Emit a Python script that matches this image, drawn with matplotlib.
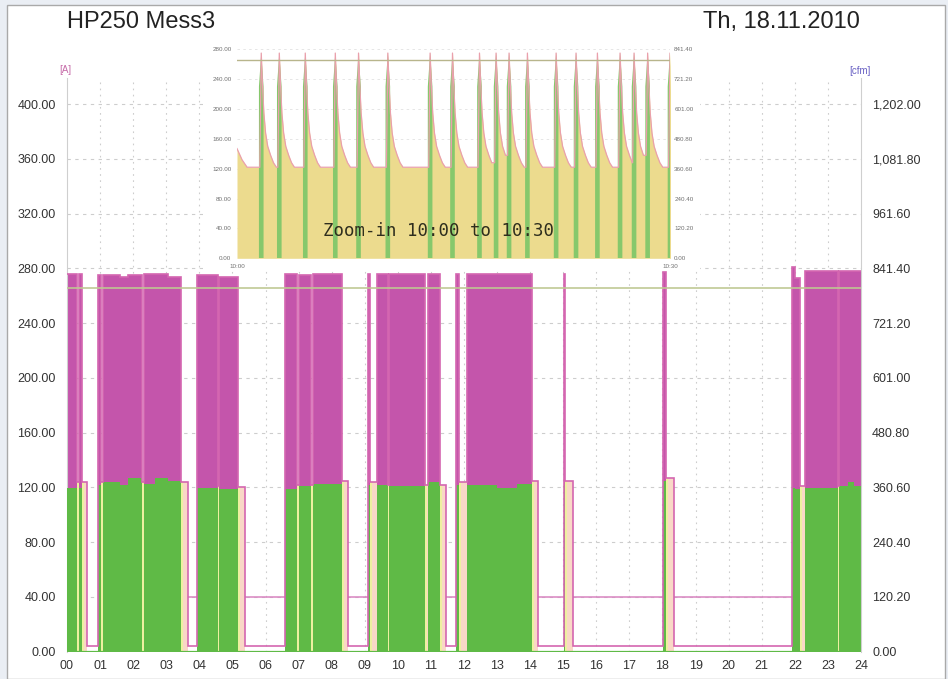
import matplotlib
matplotlib.use("Agg")
import matplotlib.pyplot as plt
from matplotlib.patches import Rectangle

W, H = 948, 679
DPI = 100

# ---------------- 24 h record (hours of the day) ----------------
# load periods: start / end [h], current peak [A], delivered flow [cfm]
load_start = [0.00, 0.36, 0.94, 1.10, 1.60, 1.85, 2.33, 2.65, 3.05, 3.92, 4.60,
              6.59, 7.02, 7.43, 9.10, 9.36, 9.72, 10.90, 11.77, 12.08, 13.00,
              13.60, 15.02, 18.03, 21.92, 22.02, 22.30, 23.34, 23.60, 23.80]
load_end = [0.30, 0.45, 1.02, 1.60, 1.85, 2.28, 2.65, 3.05, 3.45, 4.57, 5.17,
            6.95, 7.38, 8.30, 9.17, 9.69, 10.82, 11.28, 11.86, 13.00, 13.60,
            14.07, 15.06, 18.12, 22.02, 22.16, 23.31, 23.60, 23.80, 24.00]
load_peak_a = [276, 276, 275, 275, 274, 275, 276, 276, 274, 275, 274,
               276, 275, 276, 276, 276, 276, 276, 276, 276, 276,
               276, 276, 277, 281, 273, 278, 278, 278, 278]
load_flow_cfm = [360, 360, 366, 372, 366, 381, 369, 381, 375, 360, 358,
                 358, 363, 369, 366, 366, 363, 372, 366, 366, 360,
                 369, 366, 375, 360, 357, 360, 363, 372, 363]

# unload periods: start / end [h], current [A]
unload_start = [0.30, 0.45, 1.02, 2.28, 3.45, 4.57, 5.17, 6.95, 7.38, 8.30,
                9.17, 9.69, 10.82, 11.28, 11.86, 14.07, 15.06, 18.12, 22.16, 23.31]
unload_end = [0.36, 0.59, 1.10, 2.33, 3.66, 4.60, 5.37, 7.02, 7.43, 8.48,
              9.36, 9.72, 10.90, 11.46, 12.08, 14.25, 15.28, 18.34, 22.30, 23.34]
unload_current_a = [124, 124, 124, 124, 124, 121, 120, 122, 122, 125,
                    124, 122, 122, 122, 124, 125, 125, 127, 121, 121]

idle_current_a = 4.0
limit_high_a = 265.5
limit_low_a = 40.0
limit_low_from_h, limit_low_to_h = 3.57, 21.93

hours = list(range(25))
hour_labels = [f"{h:02d}" for h in hours]
amp_ticks = [0, 40, 80, 120, 160, 200, 240, 280, 320, 360, 400]
cfm_ticks = [0.00, 120.20, 240.40, 360.60, 480.80, 601.00, 721.20, 841.40,
             961.60, 1081.80, 1202.00]

# ---------------- zoom 10:00 - 10:30 (minutes) ----------------
zoom_spike_min = [1.68, 2.93, 4.73, 6.81, 8.42, 10.45, 13.38, 14.93, 16.80,
                  17.95, 18.85, 20.12, 22.11, 23.49, 24.97, 26.54, 27.51,
                  28.45, 30.00]
zoom_start_offset_min = [0.0, 0.35, 0.70]
zoom_start_current_a = [147, 132, 122]
zoom_decay_offset_min = [0.0, 0.08, 0.18, 0.30, 0.45, 0.65, 0.85, 1.05]
zoom_decay_current_a = [275, 235, 195, 168, 150, 138, 128, 122]
zoom_amp_ticks = [0, 40, 80, 120, 160, 200, 240, 280]
zoom_cfm_ticks = [0.00, 120.20, 240.40, 360.60, 480.80, 601.00, 721.20, 841.40]
zoom_time_labels = ["10:00", "10:30"]

CFM_PER_A = cfm_ticks[-1] / amp_ticks[-1]

# colours
MAGENTA = "#c455ab"
GREEN = "#5fba46"
YELLOW = "#eef0a0"
PEACH = "#f9d8c6"
PINK = "#d466b0"
OLIVE = "#bfc892"
GRID = "#cdcdcd"
TXT = "#333333"

plt.rcParams["font.family"] = ["Liberation Sans", "DejaVu Sans"]

fig = plt.figure(figsize=(W / DPI, H / DPI), dpi=DPI, facecolor="#eaeef4")
fig.add_artist(Rectangle((7 / W, 0), (945 - 7) / W, (679 - 5) / H,
                         transform=fig.transFigure, facecolor="white",
                         edgecolor="#a9a9a9", lw=1.0, zorder=-10))

Y_TOP = 419
ax = fig.add_axes([67 / W, (H - 651.7) / H, (861 - 67) / W, (651.7 - 78.1) / H])
ax.set_facecolor("none")
ax.set_xlim(0, 24)
ax.set_ylim(0, Y_TOP)

# grid
for v in amp_ticks[1:]:
    ax.axhline(v, color=GRID, lw=0.8, ls=(0, (3, 4)), zorder=0.5)
for h in hours[1:-1]:
    ax.axvline(h, color=GRID, lw=0.8, ls=(0, (1.5, 4)), zorder=0.5)

# lower current limit
ax.plot([limit_low_from_h, limit_low_to_h], [limit_low_a, limit_low_a],
        color="#d884c0", lw=1.1, zorder=1)

# load: current envelope and flow
lw_ = [e - s for s, e in zip(load_start, load_end)]
ax.bar(load_start, load_peak_a, width=lw_, align="edge", color=MAGENTA,
       lw=0, zorder=2)
ax.bar(load_start, [f / CFM_PER_A for f in load_flow_cfm], width=lw_,
       align="edge", color=GREEN, lw=0, zorder=3)

# unload: current fill
uw = [e - s for s, e in zip(unload_start, unload_end)]
ax.bar(unload_start, unload_current_a, width=uw, align="edge", color=PEACH,
       lw=0, zorder=2)
ax.bar(unload_start, unload_current_a, width=[min(0.06, w) for w in uw],
       align="edge", color=YELLOW, lw=0, zorder=2.5)

# current trace
segs = sorted([(s, e, p) for s, e, p in zip(load_start, load_end, load_peak_a)] +
              [(s, e, c) for s, e, c in zip(unload_start, unload_end, unload_current_a)])
xs, ys = [], []
t_prev = 0.0
for s, e, v in segs:
    if s > t_prev + 1e-9:
        xs += [t_prev, s]
        ys += [idle_current_a, idle_current_a]
    xs += [s, e]
    ys += [v, v]
    t_prev = e
if t_prev < 24:
    xs += [t_prev, 24]
    ys += [idle_current_a, idle_current_a]
ax.plot(xs, ys, color=PINK, lw=1.2, zorder=4, solid_joinstyle="miter")

# flow baseline
ax.axhline(0, color=GREEN, lw=1.6, zorder=4.5)

# upper current limit
ax.axhline(limit_high_a, color=OLIVE, lw=1.3, alpha=0.9, zorder=5)

ax.set_xticks(hours)
ax.set_xticklabels(hour_labels)
ax.set_yticks(amp_ticks)
ax.set_yticklabels([f"{v:.2f}" for v in amp_ticks])
ax.tick_params(length=0, labelsize=9, colors=TXT)
ax.tick_params(axis="y", pad=8)
ax.tick_params(axis="x", pad=6)
for side in ("top", "bottom", "right"):
    ax.spines[side].set_visible(False)
ax.spines["left"].set_color("#cfcfcf")

ax2 = ax.twinx()
ax2.set_ylim(0, Y_TOP * CFM_PER_A)
ax2.set_yticks(cfm_ticks)
ax2.set_yticklabels([f"{v:,.2f}" for v in cfm_ticks])
ax2.tick_params(length=0, labelsize=9, colors=TXT, pad=8)
for side in ("top", "bottom", "left"):
    ax2.spines[side].set_visible(False)
ax2.spines["right"].set_color("#cfcfcf")

fig.text(65 / W, 1 - 70 / H, "[A]", color="#c66aa8", fontsize=7,
         ha="center", va="center")
fig.text(860 / W, 1 - 71 / H, "[cfm]", color="#6a62c4", fontsize=7,
         ha="center", va="center")
fig.text(67 / W, 1 - 22 / H, "HP250 Mess3", fontsize=17, color="#222222",
         ha="left", va="center")
fig.text(860 / W, 1 - 22 / H, "Th, 18.11.2010", fontsize=17, color="#222222",
         ha="right", va="center")

# ---------------- zoom panel ----------------
fig.add_artist(Rectangle((203 / W, 1 - 271 / H), (700 - 203) / W, (271 - 38) / H,
                         transform=fig.transFigure, facecolor="white",
                         edgecolor="none", zorder=1))
Z_TOP = 290
axin = fig.add_axes([237 / W, (H - 258.3) / H, 433 / W, (258.3 - 41.85) / H],
                    zorder=2)
axin.set_facecolor("white")
axin.set_xlim(0, 30)
axin.set_ylim(0, Z_TOP)

zx = list(zoom_start_offset_min)
zy = list(zoom_start_current_a)
RISE = 0.10
for t in zoom_spike_min:
    rise = t - RISE
    while zx and zx[-1] > rise:
        zx.pop()
        zy.pop()
    zx.append(rise)
    zy.append(zy[-1])
    for o, v in zip(zoom_decay_offset_min, zoom_decay_current_a):
        zx.append(t + o)
        zy.append(v)

for v in zoom_amp_ticks[1:]:
    axin.axhline(v, color="#e2e2e2", lw=0.6, ls=(0, (3, 4)), zorder=0.5)
axin.fill_between(zx, 0, zy, color="#ecdb8e", lw=0, zorder=1)
gx = [-0.16, -0.16, 0.0, 0.16, 0.16]
gy = [0, 230, 275, 230, 0]
for t in zoom_spike_min:
    axin.fill([t + d for d in gx], gy, color="#86c86c", lw=0, zorder=2)
axin.plot(zx, zy, color="#eaa0ac", lw=0.9, zorder=3)
axin.axhline(limit_high_a, color="#b8b58c", lw=1.0, zorder=4)

axin.set_xticks([0, 30])
axin.set_xticklabels(zoom_time_labels)
axin.set_yticks(zoom_amp_ticks)
axin.set_yticklabels([f"{v:.2f}" for v in zoom_amp_ticks])
axin.tick_params(length=0, labelsize=4.5, colors="#707070", pad=4)
for s in axin.spines.values():
    s.set_visible(False)
axin2 = axin.twinx()
axin2.set_ylim(0, Z_TOP * CFM_PER_A)
axin2.set_yticks(zoom_cfm_ticks)
axin2.set_yticklabels([f"{v:.2f}" for v in zoom_cfm_ticks])
axin2.tick_params(length=0, labelsize=4.5, colors="#707070", pad=3)
for s in axin2.spines.values():
    s.set_visible(False)

axin.text((439 - 237) / 433, (258.3 - 231) / (258.3 - 41.85),
          "Zoom-in 10:00 to 10:30", transform=axin.transAxes,
          family="DejaVu Sans Mono", fontsize=12.5, color="#2e2e1e",
          ha="center", va="center", zorder=5)

fig.savefig("out.png", dpi=DPI, facecolor=fig.get_facecolor())
